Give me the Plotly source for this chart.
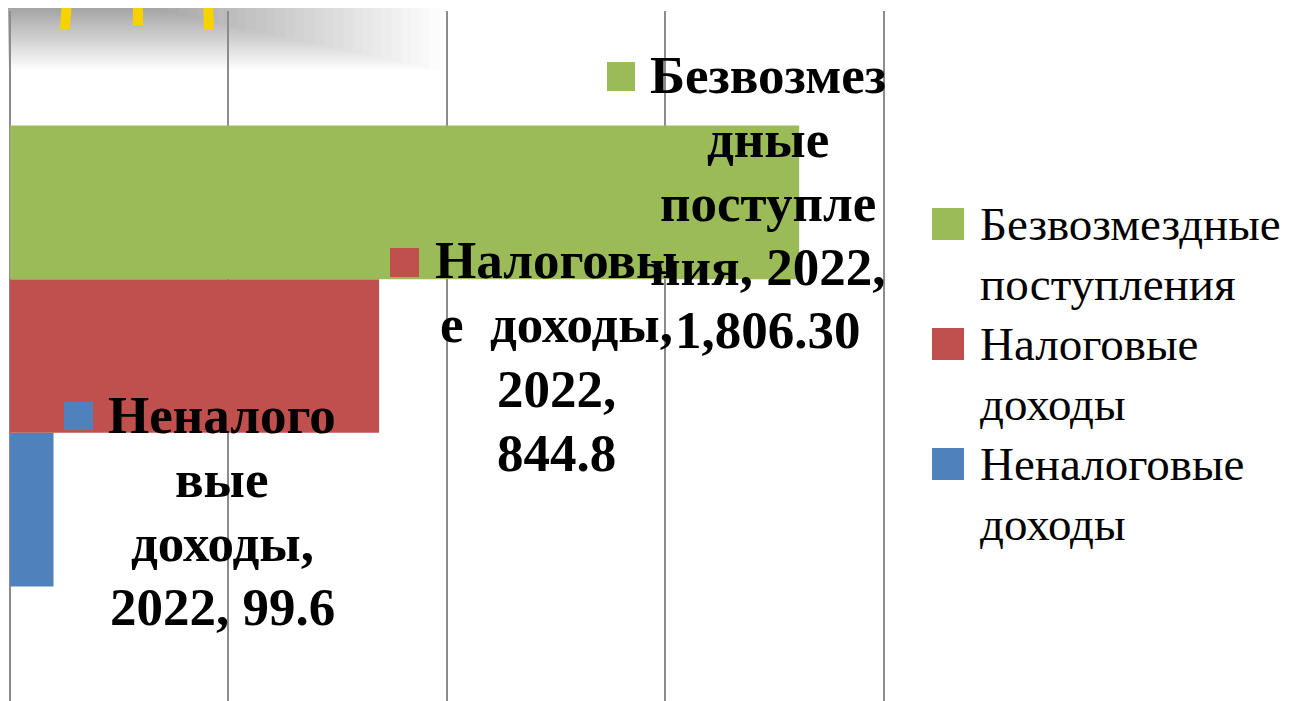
import plotly.graph_objects as go

# ---------------- data ----------------
categories = ["2022"]
series_names = ["Неналоговые доходы", "Налоговые доходы", "Безвозмездные поступления"]
series_values = [99.6, 844.8, 1806.30]
series_colors = ["#4F81BD", "#C0504D", "#9BBB59"]
value_formats = ["{:.1f}", "{:.1f}", "{:,.2f}"]
# how the data label text wraps (chunk lengths, as in the original chart)
label_wraps = [[8, 4, 8, 10], [8, 10, 6, 5], [9, 5, 8, 11, 8]]
x_ticks = [0, 500, 1000, 1500, 2000]

# ---------------- geometry ----------------
OFF = 8                      # page body margin around the figure
W, H = 1290 - OFF, 701 - OFF
L, R, T, B = 2, 404, 3, 0
PW, PH = W - L - R, H - T - B


def px(xpage):
    return (xpage - OFF - L) / PW


def py(ypage):
    return (H - B - (ypage - OFF)) / PH


SERIF = "Liberation Serif, Times New Roman, serif"
LBL_FS = 53
LEG_FS = 47

fig = go.Figure()
for name, val, col in zip(series_names, series_values, series_colors):
    fig.add_trace(go.Bar(
        y=categories, x=[val], name=name, orientation="h",
        marker=dict(color=col, line=dict(width=0)),
        showlegend=False, hoverinfo="x+name",
    ))

shapes = []
annotations = []

# decorative grey fade at top-left + yellow marks
N = 30
for i in range(N):
    t = 1 - i / N
    shapes.append(dict(type="rect", xref="paper", yref="paper",
                       x0=px(0), x1=px(150 + 290 * t), y0=py(0), y1=py(8 + 62 * t),
                       fillcolor="black", opacity=0.013, line=dict(width=0), layer="below"))
for (xt, xb, yb) in [(67, 65, 29), (138, 138, 25), (208, 209, 30)]:
    shapes.append(dict(type="line", xref="paper", yref="paper",
                       x0=px(xt), x1=px(xb), y0=py(0), y1=py(yb),
                       line=dict(color="#F6D200", width=10), layer="below"))

# data labels (with legend keys)
label_pos = [  # center x, first baseline, step, key box (x0, x1, y0, y1)
    (222, 433, 64.0, (64, 93, 402, 430)),
    (556, 278, 64.3, (390, 419, 248, 277)),
    (768, 93, 63.8, (607, 635, 62, 91)),
]
for name, val, col, fmt, wrap, pos in zip(series_names, series_values, series_colors,
                                           value_formats, label_wraps, label_pos):
    full = f"{name}, {categories[0]}, {fmt.format(val)}"
    lines, i = [], 0
    for n in wrap:
        lines.append(full[i:i + n].strip())
        i += n
    cx, b0, step, (kx0, kx1, ky0, ky1) = pos
    shapes.append(dict(type="rect", xref="paper", yref="paper",
                       x0=px(kx0), x1=px(kx1), y0=py(ky1), y1=py(ky0),
                       fillcolor=col, line=dict(width=0), layer="above"))
    for k, ln in enumerate(lines):
        if len(ln) > 1 and ln[1] == " ":
            ln = ln[0] + "\u00a0\u00a0" + ln[2:]
        base = b0 + step * k
        annotations.append(dict(
            text=f"<b>{ln}</b>", xref="paper", yref="paper",
            x=px(cx), y=py(base - 0.3375 * LBL_FS), xanchor="center", yanchor="middle",
            showarrow=False, borderpad=0, borderwidth=0,
            font=dict(family=SERIF, size=LBL_FS, color="black"),
        ))

# legend (drawn to match the original key size)
leg_key_tops = {"Безвозмездные поступления": 208, "Налоговые доходы": 328, "Неналоговые доходы": 448}
leg_step = 59.6
for name, col in zip(reversed(series_names), reversed(series_colors)):
    top = leg_key_tops[name]
    shapes.append(dict(type="rect", xref="paper", yref="paper",
                       x0=px(932), x1=px(964), y0=py(top + 32), y1=py(top),
                       fillcolor=col, line=dict(width=0), layer="above"))
    for k, word in enumerate(name.split(" ")):
        base = top + 32 + leg_step * k
        annotations.append(dict(
            text=word, xref="paper", yref="paper",
            x=px(980), y=py(base - 0.3375 * LEG_FS), xanchor="left", yanchor="middle",
            showarrow=False, borderpad=0, borderwidth=0,
            font=dict(family=SERIF, size=LEG_FS, color="black"),
        ))

fig.update_layout(
    width=W, height=H,
    margin=dict(l=L, r=R, t=T, b=B, pad=0),
    paper_bgcolor="white", plot_bgcolor="white",
    barmode="group", bargap=0.332, bargroupgap=0,
    showlegend=False,
    xaxis=dict(range=[0, 2005], tickvals=x_ticks, showticklabels=False,
               showgrid=True, gridcolor="#8C8C8C", gridwidth=1.5,
               zeroline=True, zerolinecolor="#8C8C8C", zerolinewidth=1.5,
               showline=False, ticks=""),
    yaxis=dict(showticklabels=False, showgrid=False, zeroline=False, showline=False, ticks=""),
    shapes=shapes, annotations=annotations,
)

fig.write_html("out.html")
